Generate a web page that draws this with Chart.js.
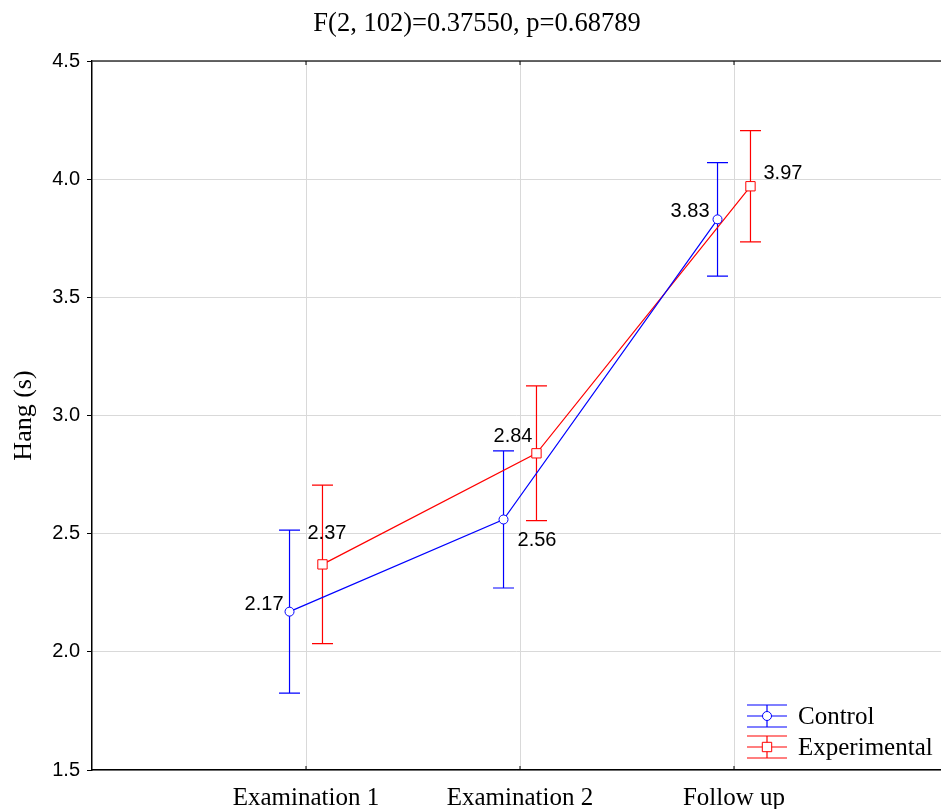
<!DOCTYPE html>
<html>
<head>
<meta charset="utf-8">
<script src="https://cdn.jsdelivr.net/npm/chart.js@4"></script>
<style>
  body { margin: 0; background: #fff; }
  #wrap { width: 941px; height: 809px; }
</style>
</head>
<body>
<div id="wrap"><canvas id="hangChart"></canvas></div>
<script>
// dados
const categories = ['Examination 1', 'Examination 2', 'Follow up'];
const controlMeans = [2.17, 2.56, 3.83];
const controlErr = [0.345, 0.29, 0.24];
const experimentalMeans = [2.37, 2.84, 3.97];
const experimentalErr = [0.335, 0.285, 0.235];
const yTicks = [1.5, 2.0, 2.5, 3.0, 3.5, 4.0, 4.5];
const chartTitle = 'F(2, 102)=0.37550, p=0.68789';

// estilo (deslocamento horizontal das series e posicao dos rotulos)
const seriesShift = [-0.077, 0.077];
const labelOffsets = [
    [[-6, -7, 'right'], [14, 21, 'left'], [-8, -8, 'right']],
    [[-15, -31, 'left'], [-4, -17, 'right'], [13, -13, 'left']]
];

const serif = "'Liberation Serif', 'Times New Roman', serif";
const sans = "'Liberation Sans', Arial, sans-serif";

const series = [
    { label: 'Control', means: controlMeans, err: controlErr, color: '#0000ff', style: 'circle' },
    { label: 'Experimental', means: experimentalMeans, err: experimentalErr, color: '#ff0000', style: 'rect' }
];

function points(s, k) {
    return s.means.map((m, i) => ({ x: i + 1 + seriesShift[k], y: m }));
}

function drawMarker(ctx, style, x, y, color) {
    ctx.strokeStyle = color;
    ctx.fillStyle = '#fff';
    ctx.lineWidth = 1;
    ctx.beginPath();
    if (style === 'circle') {
        ctx.arc(x, y, 4.5, 0, Math.PI * 2);
    } else {
        ctx.rect(x - 4.7, y - 4.7, 9.4, 9.4);
    }
    ctx.fill();
    ctx.stroke();
}

// titulo, barras de erro, rotulos e legenda
const extrasPlugin = {
    id: 'extras',
    beforeDatasetsDraw(chart) {
        const { ctx, scales: { x, y } } = chart;
        ctx.save();
        series.forEach((s, k) => {
            ctx.strokeStyle = s.color;
            ctx.lineWidth = 1.2;
            s.means.forEach((m, i) => {
                const px = x.getPixelForValue(i + 1 + seriesShift[k]);
                const top = y.getPixelForValue(m + s.err[i]);
                const bot = y.getPixelForValue(m - s.err[i]);
                ctx.beginPath();
                ctx.moveTo(px, top); ctx.lineTo(px, bot);
                ctx.moveTo(px - 10.5, top); ctx.lineTo(px + 10.5, top);
                ctx.moveTo(px - 10.5, bot); ctx.lineTo(px + 10.5, bot);
                ctx.stroke();
            });
        });
        ctx.restore();
    },
    afterDraw(chart) {
        const { ctx, chartArea, scales: { x, y } } = chart;
        ctx.save();
        // titulo
        ctx.fillStyle = '#000';
        ctx.font = '26.5px ' + serif;
        ctx.textAlign = 'center';
        ctx.textBaseline = 'middle';
        ctx.fillText(chartTitle, 477, 24);

        // borda superior
        ctx.strokeStyle = '#333';
        ctx.lineWidth = 1.5;
        ctx.beginPath();
        ctx.moveTo(chartArea.left, chartArea.top);
        ctx.lineTo(chartArea.right, chartArea.top);
        ctx.stroke();
        // marcas internas do eixo x
        ctx.lineWidth = 1;
        ctx.strokeStyle = '#000';
        categories.forEach((c, i) => {
            const px = x.getPixelForValue(i + 1);
            ctx.beginPath();
            ctx.moveTo(px, chartArea.bottom); ctx.lineTo(px, chartArea.bottom - 4);
            ctx.moveTo(px, chartArea.top); ctx.lineTo(px, chartArea.top + 4);
            ctx.stroke();
        });

        // rotulos dos pontos
        ctx.fillStyle = '#000';
        ctx.font = '20px ' + sans;
        ctx.textBaseline = 'middle';
        series.forEach((s, k) => {
            s.means.forEach((m, i) => {
                const px = x.getPixelForValue(i + 1 + seriesShift[k]);
                const py = y.getPixelForValue(m);
                const o = labelOffsets[k][i];
                ctx.textAlign = o[2];
                ctx.fillText(m.toFixed(2), px + o[0], py + o[1]);
            });
        });

        // legenda
        const lx = chartArea.right - 174;
        series.forEach((s, k) => {
            const ly = chartArea.bottom - 54 + k * 31;
            ctx.strokeStyle = s.color;
            ctx.lineWidth = 1.2;
            ctx.beginPath();
            ctx.moveTo(lx - 20, ly - 11); ctx.lineTo(lx + 20, ly - 11);
            ctx.moveTo(lx - 20, ly); ctx.lineTo(lx + 20, ly);
            ctx.moveTo(lx - 20, ly + 11); ctx.lineTo(lx + 20, ly + 11);
            ctx.moveTo(lx, ly - 11); ctx.lineTo(lx, ly + 11);
            ctx.stroke();
            drawMarker(ctx, s.style, lx, ly, s.color);
            ctx.fillStyle = '#000';
            ctx.font = '25px ' + serif;
            ctx.textAlign = 'left';
            ctx.textBaseline = 'middle';
            ctx.fillText(s.label, lx + 31, ly + 1);
        });
        ctx.restore();
    }
};

const ctx = document.getElementById('hangChart').getContext('2d');
const hangChart = new Chart(ctx, {
    type: 'line',
    data: {
        datasets: series.map((s, k) => ({
            label: s.label,
            data: points(s, k),
            borderColor: s.color,
            borderWidth: 1.2,
            pointStyle: s.style,
            pointRadius: s.style === 'circle' ? 4.5 : 6.6,
            pointBorderColor: s.color,
            pointBackgroundColor: '#fff',
            pointBorderWidth: 1,
            tension: 0
        }))
    },
    options: {
        responsive: true,
        maintainAspectRatio: false,
        animation: false,
        layout: { padding: { top: 61, left: 0, right: 0, bottom: 0 }, autoPadding: false },
        plugins: {
            legend: { display: false },
            tooltip: { enabled: false },
            title: { display: false }
        },
        scales: {
            x: {
                type: 'linear',
                min: 0,
                max: 849 / 214,
                afterBuildTicks(scale) {
                    scale.ticks = categories.map((c, i) => ({ value: i + 1 }));
                },
                afterFit(scale) {
                    scale.height = 39;
                    scale.paddingLeft = 0;
                    scale.paddingRight = 0;
                },
                ticks: {
                    color: '#000',
                    font: { family: serif, size: 25 },
                    padding: 13,
                    maxRotation: 0,
                    callback: (v) => categories[v - 1]
                },
                grid: { color: '#d9d9d9', drawTicks: false },
                border: { color: '#000', width: 1.5 }
            },
            y: {
                min: 1.5,
                max: 4.5,
                afterBuildTicks(scale) {
                    scale.ticks = yTicks.map(v => ({ value: v }));
                },
                afterFit(scale) { scale.width = 92; },
                ticks: {
                    color: '#000',
                    font: { family: sans, size: 20 },
                    padding: 7,
                    callback: (v) => v.toFixed(1)
                },
                grid: { color: '#d9d9d9', tickColor: '#000', tickLength: 5 },
                border: { color: '#000', width: 1.5 },
                title: {
                    display: true,
                    text: 'Hang (s)',
                    color: '#000',
                    font: { family: serif, size: 26, lineHeight: 1.2 },
                    padding: { top: 9, bottom: 0 }
                }
            }
        }
    },
    plugins: [extrasPlugin]
});
</script>
</body>
</html>
